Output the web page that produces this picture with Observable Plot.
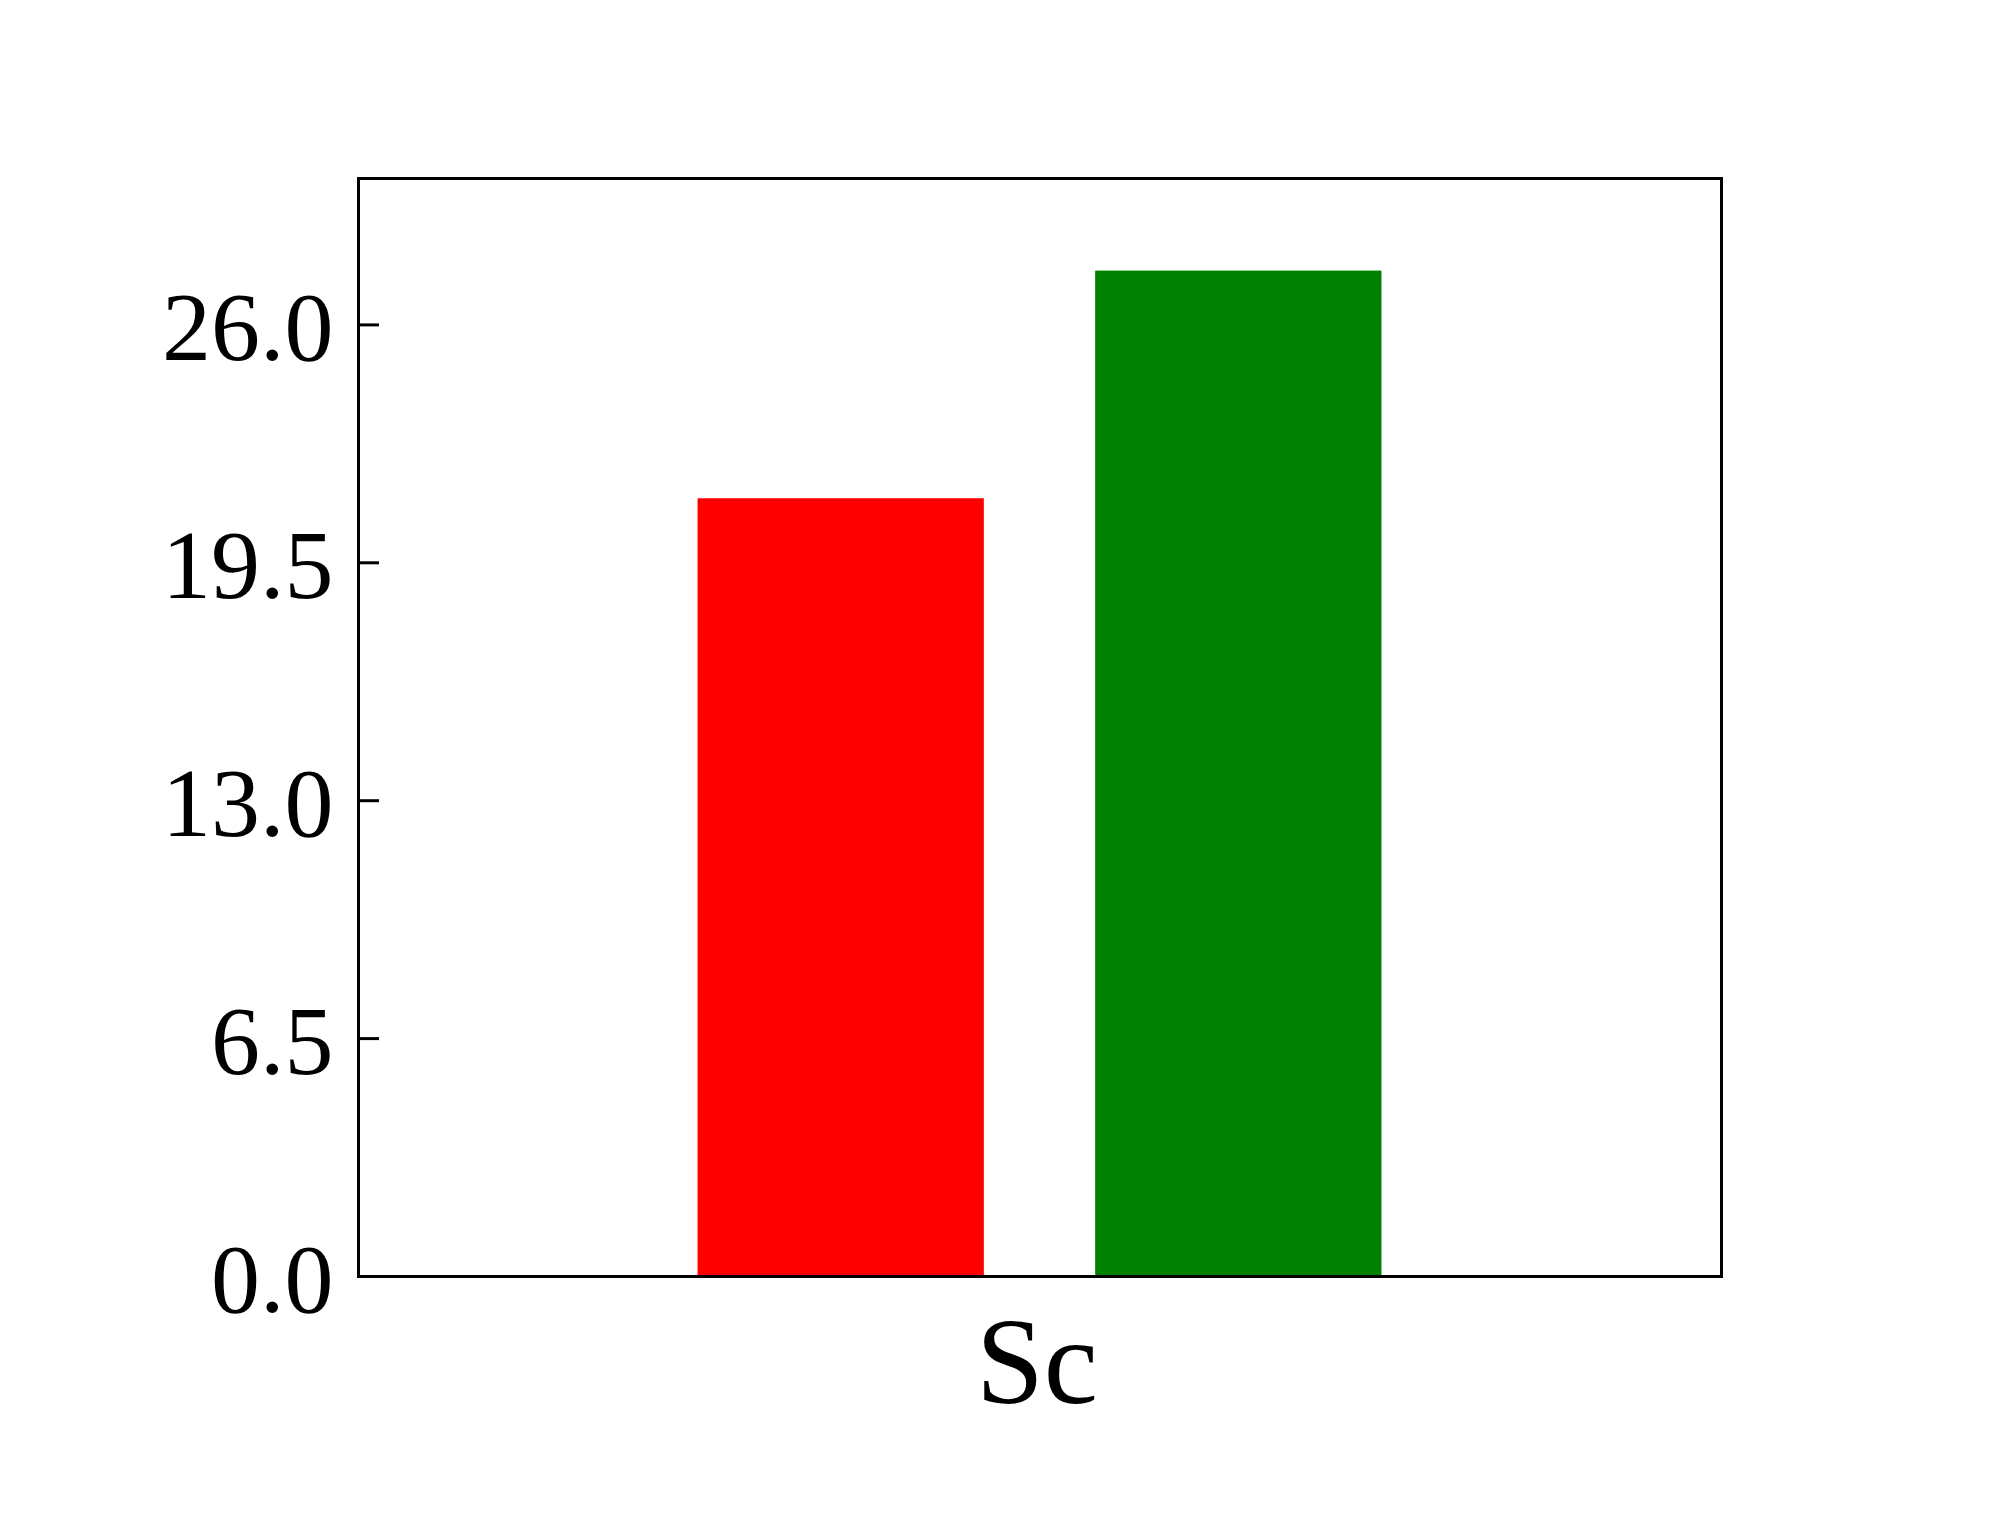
<!DOCTYPE html>
<html><head><meta charset="utf-8">
<script src="https://cdn.jsdelivr.net/npm/d3@7"></script>
<script src="https://cdn.jsdelivr.net/npm/@observablehq/plot@0.6"></script>
<style>body{margin:0;background:#fff}#chart{width:1999px;height:1530px}</style>
</head><body><div id="chart"></div>
<script>
// Data
const categories = ["Sc"];
const seriesNames = ["Series 1", "Series 2"];
const seriesValues = [21.25, 27.47];
const yTickValues = [0, 6.5, 13, 19.5, 26];

// Layout / style (kept separate from data)
const seriesColors = ["#ff0000", "#008000"];
const seriesOffsets = [-0.25, 0.25];
const barWidth = 0.36;

const rows = seriesNames.map((s, i) => ({
  category: categories[0],
  series: s,
  value: seriesValues[i],
  x1: seriesOffsets[i] - barWidth / 2,
  x2: seriesOffsets[i] + barWidth / 2
}));

const chart = Plot.plot({
  width: 1999,
  height: 1530,
  marginLeft: 358,
  marginRight: 278,
  marginTop: 178,
  marginBottom: 254,
  style: {fontFamily: "'Liberation Serif', 'DejaVu Serif', serif", background: "#fff", color: "#000"},
  x: {domain: [-0.857, 0.857], axis: null},
  y: {domain: [0, 30], axis: null},
  marks: [
    Plot.rectY(rows, {x1: "x1", x2: "x2", y: "value", fill: (d, i) => seriesColors[i]}),
    Plot.axisY({ticks: yTickValues, label: null, tickFormat: () => "", tickSize: -21, strokeWidth: 3, stroke: "#000"}),
    Plot.axisY({ticks: yTickValues, label: null, tickFormat: d => d.toFixed(1), tickSize: 0, tickPadding: 25, fontSize: 98, fill: "#000", dy: 4}),
    Plot.axisX({ticks: [0], label: null, tickFormat: () => categories[0], tickSize: 0, tickPadding: 40, fontSize: 122, fill: "#000", dx: -3}),
    Plot.frame({stroke: "#000", strokeWidth: 3})
  ]
});
document.getElementById("chart").append(chart);
</script>
</body></html>
